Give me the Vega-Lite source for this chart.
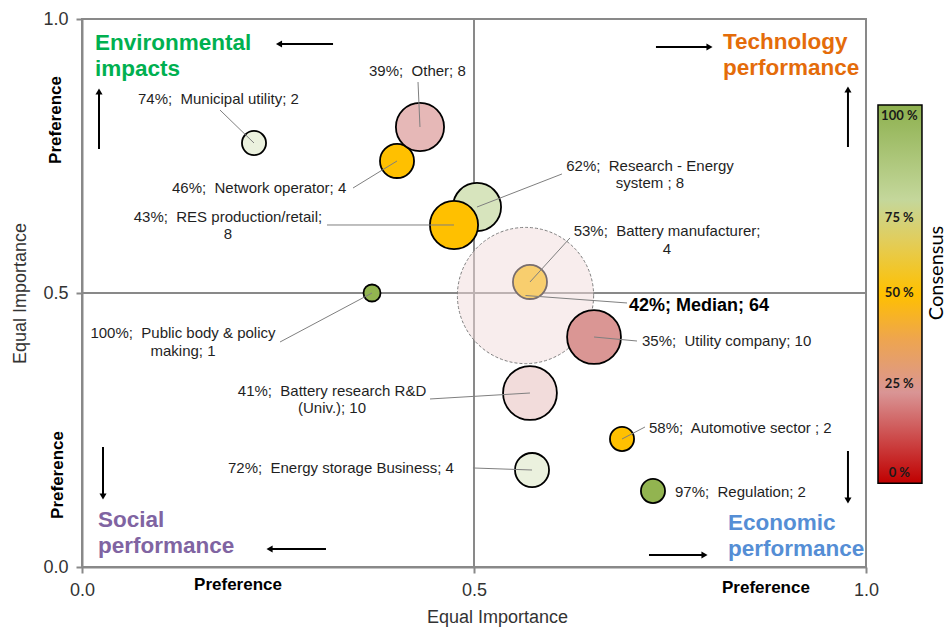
{
  "$schema": "https://vega.github.io/schema/vega-lite/v6.json",
  "width": 784,
  "height": 548,
  "autosize": {"type": "none"},
  "padding": {"left": 82, "top": 19, "right": 82, "bottom": 60},
  "background": "white",
  "config": {
    "view": {"stroke": "#898989", "strokeWidth": 2},
    "axis": {
      "grid": false,
      "domainColor": "#898989",
      "domainWidth": 2,
      "tickColor": "#898989",
      "tickWidth": 2,
      "tickSize": 6,
      "labelFont": "Liberation Sans",
      "labelFontSize": 18,
      "labelColor": "#333333",
      "labelFlush": false,
      "titleFont": "Liberation Sans",
      "titleFontSize": 18,
      "titleFontWeight": "normal",
      "titleColor": "#333333"
    },
    "text": {"font": "Liberation Sans"}
  },
  "datasets": {
    "bubbles": [
      {"name": "Battery manufacturer", "consensus": 53, "count": 4, "x": 0.5714, "y": 0.5201, "lx": 0.6224, "ly": 0.6004},
      {"name": "Battery research R&D (Univ.)", "consensus": 41, "count": 10, "x": 0.5714, "y": 0.3175, "lx": 0.4439, "ly": 0.3066},
      {"name": "Median", "consensus": 42, "count": 64, "x": 0.5657, "y": 0.4954, "lx": 0.6952, "ly": 0.4818},
      {"name": "Municipal utility", "consensus": 74, "count": 2, "x": 0.2194, "y": 0.7737, "lx": 0.176, "ly": 0.8339},
      {"name": "Network operator", "consensus": 46, "count": 4, "x": 0.4018, "y": 0.7409, "lx": 0.3457, "ly": 0.6916},
      {"name": "Other", "consensus": 39, "count": 8, "x": 0.4311, "y": 0.8029, "lx": 0.4286, "ly": 0.885},
      {"name": "Research - Energy system", "consensus": 62, "count": 8, "x": 0.5038, "y": 0.6569, "lx": 0.6122, "ly": 0.7172},
      {"name": "RES production/retail", "consensus": 43, "count": 8, "x": 0.4745, "y": 0.6241, "lx": 0.3125, "ly": 0.6241},
      {"name": "Utility company", "consensus": 35, "count": 10, "x": 0.6531, "y": 0.4197, "lx": 0.7079, "ly": 0.4124},
      {"name": "Public body & policy making", "consensus": 100, "count": 1, "x": 0.3699, "y": 0.5, "lx": 0.2526, "ly": 0.4106},
      {"name": "Energy storage Business", "consensus": 72, "count": 4, "x": 0.574, "y": 0.177, "lx": 0.4987, "ly": 0.1807},
      {"name": "Automotive sector", "consensus": 58, "count": 2, "x": 0.6888, "y": 0.2336, "lx": 0.7181, "ly": 0.2555},
      {"name": "Regulation", "consensus": 97, "count": 2, "x": 0.7283, "y": 0.1387, "lx": null, "ly": null}
    ],
    "labels_left": [
      {"text": "74%;\u00a0 Municipal utility; 2", "x": 0.0714, "y": 0.854},
      {"text": "39%;\u00a0 Other; 8", "x": 0.3661, "y": 0.9051},
      {"text": "46%;\u00a0 Network operator; 4", "x": 0.1148, "y": 0.6916},
      {"text": "35%;\u00a0 Utility company; 10", "x": 0.7143, "y": 0.4124},
      {"text": "72%;\u00a0 Energy storage Business; 4", "x": 0.1862, "y": 0.1807},
      {"text": "58%;\u00a0 Automotive sector ; 2", "x": 0.7232, "y": 0.2536},
      {"text": "97%;\u00a0 Regulation; 2", "x": 0.7564, "y": 0.1369}
    ],
    "labels_center": [
      {"text": "62%;\u00a0 Research - Energy\nsystem ; 8", "x": 0.7245, "y": 0.7318},
      {"text": "43%;\u00a0 RES production/retail;\n8", "x": 0.1862, "y": 0.6387},
      {"text": "53%;\u00a0 Battery manufacturer;\n4", "x": 0.7462, "y": 0.6131},
      {"text": "100%;\u00a0 Public body & policy\nmaking; 1", "x": 0.1288, "y": 0.427},
      {"text": "41%;\u00a0 Battery research R&D\n(Univ.); 10", "x": 0.3189, "y": 0.3212}
    ],
    "quadrants": [
      {"text": "Environmental\nimpacts", "group": "Environmental impacts", "x": 0.0166, "y": 0.9562},
      {"text": "Technology\nperformance", "group": "Technology performance", "x": 0.8176, "y": 0.958},
      {"text": "Social\nperformance", "group": "Social performance", "x": 0.0204, "y": 0.0858},
      {"text": "Economic\nperformance", "group": "Economic performance", "x": 0.824, "y": 0.0803}
    ],
    "arrows": [
      {"x": 0.3202, "y": 0.9544, "x2": 0.2513, "y2": 0.9544, "dir": "left"},
      {"x": 0.0217, "y": 0.7628, "x2": 0.0217, "y2": 0.8677, "dir": "up"},
      {"x": 0.7321, "y": 0.9489, "x2": 0.8004, "y2": 0.9489, "dir": "right"},
      {"x": 0.977, "y": 0.7664, "x2": 0.977, "y2": 0.8714, "dir": "up"},
      {"x": 0.0268, "y": 0.219, "x2": 0.0268, "y2": 0.1286, "dir": "down"},
      {"x": 0.3112, "y": 0.0328, "x2": 0.2392, "y2": 0.0328, "dir": "left"},
      {"x": 0.977, "y": 0.2117, "x2": 0.977, "y2": 0.1214, "dir": "down"},
      {"x": 0.7232, "y": 0.0219, "x2": 0.794, "y2": 0.0219, "dir": "right"}
    ],
    "pref_vertical": [
      {"text": "Preference", "x": -0.0332, "y": 0.8157},
      {"text": "Preference", "x": -0.0306, "y": 0.1679}
    ],
    "pref_horizontal": [
      {"text": "Preference", "x": 0.199, "y": -0.0328},
      {"text": "Preference", "x": 0.8724, "y": -0.0383}
    ],
    "colorbar_labels": [
      {"text": "100 %", "y": 0.823},
      {"text": "75 %", "y": 0.637},
      {"text": "50 %", "y": 0.5},
      {"text": "25 %", "y": 0.334},
      {"text": "0 %", "y": 0.172}
    ]
  },
  "layer": [
    {
      "data": {"values": [{}]},
      "mark": {"type": "rule", "color": "#898989", "strokeWidth": 2},
      "encoding": {"x": {"datum": 0.5, "type": "quantitative"}}
    },
    {
      "data": {"values": [{}]},
      "mark": {"type": "rule", "color": "#898989", "strokeWidth": 2},
      "encoding": {"y": {"datum": 0.5, "type": "quantitative"}}
    },
    {
      "data": {"name": "bubbles"},
      "transform": [{"filter": "datum.name === 'Battery manufacturer' || datum.name === 'Battery research R&D (Univ.)'"}],
      "mark": {"type": "point", "shape": "circle", "filled": true, "opacity": 1, "stroke": "black", "strokeWidth": 1.8},
      "encoding": {
        "x": {"field": "x", "type": "quantitative", "scale": {"domain": [0, 1], "nice": false, "zero": false},
              "axis": {"values": [0, 0.5, 1], "format": ".1f", "title": "Equal Importance", "labelPadding": 8, "titleX": 415, "titleY": 50, "titleBaseline": "middle"}},
        "y": {"field": "y", "type": "quantitative", "scale": {"domain": [0, 1], "nice": false, "zero": false},
              "axis": {"values": [0, 0.5, 1], "format": ".1f", "title": "Equal Importance", "labelPadding": 8, "titleX": -62, "titleY": 274, "titleBaseline": "middle", "titleAlign": "center", "titleAngle": 270}},
        "size": {"field": "count", "type": "quantitative", "scale": {"type": "linear", "domain": [0, 64], "range": [0, 18560]}, "legend": null},
        "fill": {"field": "consensus", "type": "quantitative", "scale": {"type": "threshold", "domain": [37, 40, 42.5, 60, 70, 90], "range": ["#da9694", "#e6b8b7", "#f2dcdb", "#ffc000", "#d7e4bd", "#ebf1de", "#92b450"]}, "legend": null}
      }
    },
    {
      "data": {"name": "bubbles"},
      "transform": [{"filter": "datum.name === 'Median'"}],
      "mark": {"type": "point", "shape": "circle", "filled": true, "opacity": 1, "fillOpacity": 0.5, "stroke": "#7f7f7f", "strokeWidth": 1, "strokeDash": [3, 2]},
      "encoding": {
        "x": {"field": "x", "type": "quantitative"},
        "y": {"field": "y", "type": "quantitative"},
        "size": {"field": "count", "type": "quantitative", "scale": {"type": "linear", "domain": [0, 64], "range": [0, 18560]}, "legend": null},
        "fill": {"field": "consensus", "type": "quantitative", "scale": {"type": "threshold", "domain": [37, 40, 42.5, 60, 70, 90], "range": ["#da9694", "#e6b8b7", "#f2dcdb", "#ffc000", "#d7e4bd", "#ebf1de", "#92b450"]}, "legend": null}
      }
    },
    {
      "data": {"name": "bubbles"},
      "transform": [{"filter": "datum.name !== 'Median' && datum.name !== 'Battery manufacturer' && datum.name !== 'Battery research R&D (Univ.)'"}],
      "mark": {"type": "point", "shape": "circle", "filled": true, "opacity": 1, "stroke": "black", "strokeWidth": 1.8},
      "encoding": {
        "x": {"field": "x", "type": "quantitative"},
        "y": {"field": "y", "type": "quantitative"},
        "size": {"field": "count", "type": "quantitative", "scale": {"type": "linear", "domain": [0, 64], "range": [0, 18560]}, "legend": null},
        "fill": {"field": "consensus", "type": "quantitative", "scale": {"type": "threshold", "domain": [37, 40, 42.5, 60, 70, 90], "range": ["#da9694", "#e6b8b7", "#f2dcdb", "#ffc000", "#d7e4bd", "#ebf1de", "#92b450"]}, "legend": null}
      }
    },
    {
      "data": {"name": "bubbles"},
      "transform": [{"filter": "isValid(datum.lx)"}],
      "mark": {"type": "rule", "color": "#7f7f7f", "strokeWidth": 1},
      "encoding": {
        "x": {"field": "x", "type": "quantitative"},
        "y": {"field": "y", "type": "quantitative"},
        "x2": {"field": "lx"},
        "y2": {"field": "ly"}
      }
    },
    {
      "data": {"name": "labels_left"},
      "mark": {"type": "text", "align": "left", "baseline": "middle", "fontSize": 15, "color": "#1f1f1f"},
      "encoding": {
        "x": {"field": "x", "type": "quantitative"},
        "y": {"field": "y", "type": "quantitative"},
        "text": {"field": "text"}
      }
    },
    {
      "data": {"name": "labels_center"},
      "mark": {"type": "text", "align": "center", "baseline": "middle", "fontSize": 15, "lineHeight": 17.5, "lineBreak": "\n", "color": "#1f1f1f"},
      "encoding": {
        "x": {"field": "x", "type": "quantitative"},
        "y": {"field": "y", "type": "quantitative"},
        "text": {"field": "text"}
      }
    },
    {
      "data": {"values": [{"text": "42%; Median; 64"}]},
      "mark": {"type": "text", "align": "left", "baseline": "middle", "fontSize": 18, "fontWeight": "bold", "color": "black"},
      "encoding": {
        "x": {"datum": 0.6977, "type": "quantitative"},
        "y": {"datum": 0.4763, "type": "quantitative"},
        "text": {"field": "text"}
      }
    },
    {
      "data": {"name": "quadrants"},
      "mark": {"type": "text", "align": "left", "baseline": "middle", "fontSize": 22.5, "fontWeight": "bold", "lineHeight": 26, "lineBreak": "\n"},
      "encoding": {
        "x": {"field": "x", "type": "quantitative"},
        "y": {"field": "y", "type": "quantitative"},
        "text": {"field": "text"},
        "color": {"field": "group", "type": "nominal", "scale": {"domain": ["Environmental impacts", "Technology performance", "Social performance", "Economic performance"], "range": ["#00b050", "#e46c0a", "#8064a2", "#558ed5"]}, "legend": null}
      }
    },
    {
      "data": {"name": "arrows"},
      "mark": {"type": "rule", "color": "black", "strokeWidth": 2},
      "encoding": {
        "x": {"field": "x", "type": "quantitative"},
        "y": {"field": "y", "type": "quantitative"},
        "x2": {"field": "x2"},
        "y2": {"field": "y2"}
      }
    },
    {
      "data": {"name": "arrows"},
      "mark": {"type": "point", "filled": true, "opacity": 1, "color": "black", "size": 50},
      "encoding": {
        "x": {"field": "x2", "type": "quantitative"},
        "y": {"field": "y2", "type": "quantitative"},
        "shape": {"field": "dir", "type": "nominal", "scale": {"domain": ["left", "right", "up", "down"], "range": ["triangle-left", "triangle-right", "triangle-up", "triangle-down"]}, "legend": null}
      }
    },
    {
      "data": {"name": "pref_vertical"},
      "mark": {"type": "text", "angle": 270, "align": "center", "baseline": "middle", "fontSize": 17, "fontWeight": "bold", "color": "black"},
      "encoding": {
        "x": {"field": "x", "type": "quantitative"},
        "y": {"field": "y", "type": "quantitative"},
        "text": {"field": "text"}
      }
    },
    {
      "data": {"name": "pref_horizontal"},
      "mark": {"type": "text", "align": "center", "baseline": "middle", "fontSize": 17, "fontWeight": "bold", "color": "black"},
      "encoding": {
        "x": {"field": "x", "type": "quantitative"},
        "y": {"field": "y", "type": "quantitative"},
        "text": {"field": "text"}
      }
    },
    {
      "data": {"values": [{}]},
      "mark": {"type": "rect", "stroke": "black", "strokeWidth": 1.5,
        "fill": {"gradient": "linear", "x1": 0, "y1": 0, "x2": 0, "y2": 1, "stops": [
          {"offset": 0, "color": "#8db04e"},
          {"offset": 0.25, "color": "#c4d79b"},
          {"offset": 0.36, "color": "#e2cd5a"},
          {"offset": 0.5, "color": "#ffc000"},
          {"offset": 0.62, "color": "#eea54f"},
          {"offset": 0.76, "color": "#d99595"},
          {"offset": 1, "color": "#c00000"}
        ]}},
      "encoding": {
        "x": {"datum": 1.0153, "type": "quantitative"},
        "x2": {"datum": 1.0714},
        "y": {"datum": 0.153, "type": "quantitative"},
        "y2": {"datum": 0.843}
      }
    },
    {
      "data": {"name": "colorbar_labels"},
      "mark": {"type": "text", "align": "center", "baseline": "middle", "font": "Lato", "fontSize": 13, "fontWeight": "bold", "color": "#1a1a1a"},
      "encoding": {
        "x": {"datum": 1.0425, "type": "quantitative"},
        "y": {"field": "y", "type": "quantitative"},
        "text": {"field": "text"}
      }
    },
    {
      "data": {"values": [{"text": "Consensus"}]},
      "mark": {"type": "text", "angle": 270, "align": "center", "baseline": "middle", "font": "Lato", "fontSize": 20, "color": "black"},
      "encoding": {
        "x": {"datum": 1.0906, "type": "quantitative"},
        "y": {"datum": 0.5365, "type": "quantitative"},
        "text": {"field": "text"}
      }
    }
  ]
}
